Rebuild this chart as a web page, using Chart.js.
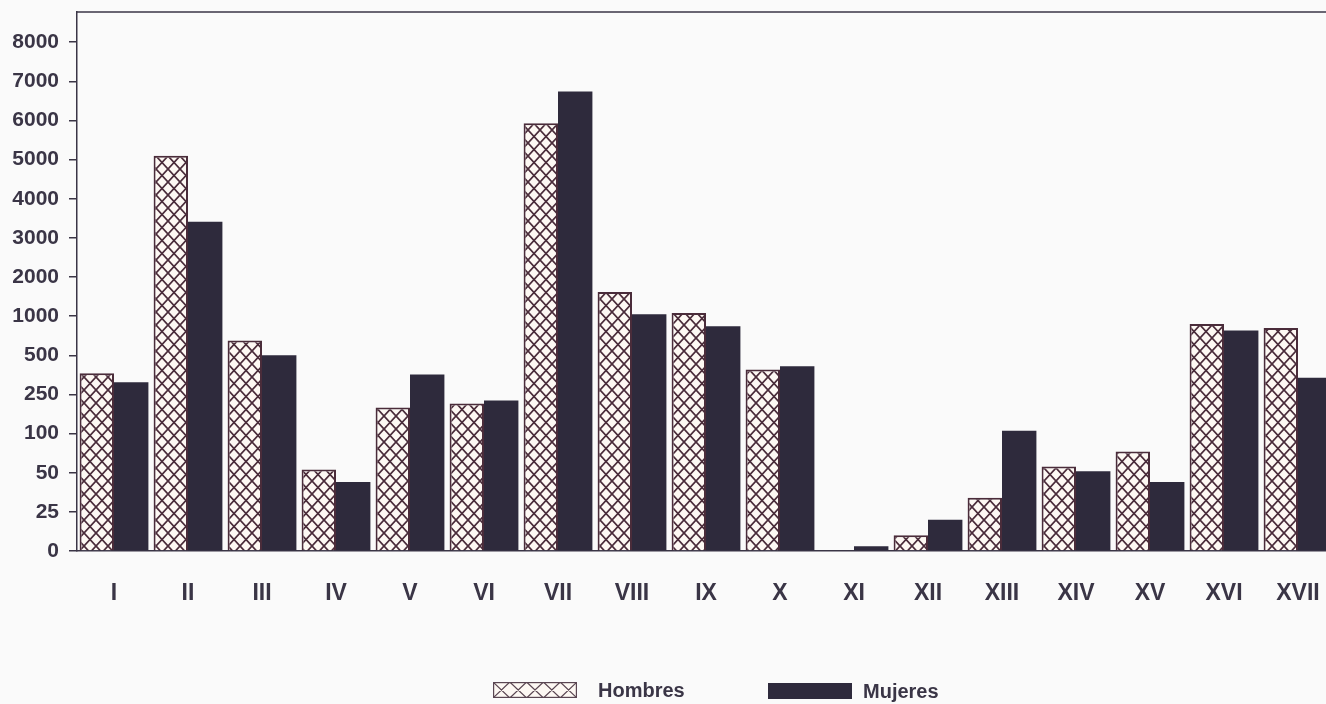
<!DOCTYPE html>
<html>
<head>
<meta charset="utf-8">
<script src="https://cdn.jsdelivr.net/npm/chart.js@4"></script>
<style>
  html, body { margin: 0; padding: 0; background: #fafafa; overflow: hidden; }
  #wrap { position: relative; width: 1340px; height: 704px; }
  #legend div { position: absolute; font: bold 20px "Liberation Sans", Arial, sans-serif; color: #3a3546; }
  #legend canvas { position: absolute; }
</style>
</head>
<body>
<div id="wrap">
  <canvas id="chart" width="1340" height="704"></canvas>
  <div id="legend">
    <canvas id="swH" width="84" height="16" style="left:493px;top:682px"></canvas>
    <div style="left:598px;top:679px">Hombres</div>
    <canvas id="swM" width="84" height="16" style="left:768px;top:683px"></canvas>
    <div style="left:863px;top:680px">Mujeres</div>
  </div>
</div>
<script>
// categories and values
const categories = ["I","II","III","IV","V","VI","VII","VIII","IX","X","XI","XII","XIII","XIV","XV","XVI","XVII"];
const hombres = [385, 5100, 690, 54, 200, 215, 5925, 1615, 1080, 410, 0, 10, 34, 58, 77, 900, 850];
const mujeres = [327, 3410, 500, 44, 378, 227, 6740, 1050, 870, 430, 3, 20, 111, 52, 44, 815, 356];
// tick labels of the (uneven) value axis, each one step apart
const yTicks = [0, 25, 50, 100, 250, 500, 1000, 2000, 3000, 4000, 5000, 6000, 7000, 8000];

function toStep(v) {
  if (v <= 0) return 0;
  for (let i = 0; i < yTicks.length - 1; i++) {
    if (v <= yTicks[i + 1]) return i + (v - yTicks[i]) / (yTicks[i + 1] - yTicks[i]);
  }
  return yTicks.length - 1 + (v - yTicks[yTicks.length - 1]) / 1000;
}
function fromStep(s) {
  const i = Math.max(0, Math.min(yTicks.length - 2, Math.floor(s)));
  return yTicks[i] + (s - i) * (yTicks[i + 1] - yTicks[i]);
}

// linear scale whose ticks sit at equal steps
class StepScale extends Chart.LinearScale {
  getPixelForValue(v) { return super.getPixelForValue(toStep(v)); }
  getValueForPixel(p) { return fromStep(super.getValueForPixel(p)); }
}
StepScale.id = "step";
StepScale.defaults = Chart.LinearScale.defaults;
Chart.register(StepScale);

const ink = "#3a3546";
const hatchLine = "#4a2c3a";

function hatch(w, h) {
  const c = document.createElement("canvas");
  c.width = w; c.height = h;
  const g = c.getContext("2d");
  g.fillStyle = "#fdf8f3";
  g.fillRect(0, 0, w, h);
  g.strokeStyle = hatchLine;
  g.lineWidth = 1.7;
  g.beginPath();
  g.moveTo(0, 0); g.lineTo(w, h);
  g.moveTo(w, 0); g.lineTo(0, h);
  g.stroke();
  return g.createPattern(c, "repeat");
}

const ctx = document.getElementById("chart").getContext("2d");
const hatchFill = hatch(12, 13);

const topLine = {
  id: "topLine",
  afterDraw(chart) {
    const { ctx, chartArea } = chart;
    ctx.save();
    ctx.strokeStyle = ink;
    ctx.lineWidth = 1.5;
    ctx.beginPath();
    ctx.moveTo(chartArea.left, chartArea.top);
    ctx.lineTo(chartArea.right + 10, chartArea.top);
    ctx.stroke();
    ctx.restore();
  }
};

new Chart(ctx, {
  type: "bar",
  data: {
    labels: categories,
    datasets: [
      { label: "Hombres", data: hombres, backgroundColor: hatchFill, borderColor: hatchLine, borderWidth: 2, borderSkipped: "bottom" },
      { label: "Mujeres", data: mujeres, backgroundColor: "#2e2a3c", borderColor: "#2e2a3c", borderWidth: 0 }
    ]
  },
  options: {
    responsive: false,
    animation: false,
    layout: { padding: { top: 12, right: 5 } },
    categoryPercentage: 0.93,
    barPercentage: 1.0,
    plugins: { legend: { display: false }, tooltip: { enabled: false } },
    scales: {
      x: {
        grid: { display: false, drawTicks: false },
        border: { color: ink, width: 1.5 },
        ticks: { color: ink, padding: 29, font: { family: "Liberation Sans", weight: "bold", size: 23 } },
        afterFit(s) { s.height = 153; s.paddingLeft = 0; s.paddingRight = 0; }
      },
      y: {
        type: "step",
        min: 0,
        max: 13.77,
        bounds: "data",
        grid: { drawOnChartArea: false, tickLength: 8, color: ink, lineWidth: 1.5 },
        border: { color: ink, width: 1.5 },
        ticks: {
          color: ink,
          padding: 10,
          font: { family: "Liberation Sans", weight: "bold", size: 21 },
          callback: (v) => String(v)
        },
        afterBuildTicks(s) { s.ticks = yTicks.map(v => ({ value: v })); },
        afterFit(s) { s.width = 77; s.paddingTop = 0; s.paddingBottom = 0; }
      }
    }
  },
  plugins: [topLine]
});

// legend swatches
const sh = document.getElementById("swH").getContext("2d");
sh.fillStyle = "#fdf8f3"; sh.fillRect(0, 0, 84, 16);
sh.strokeStyle = "#5a4652"; sh.lineWidth = 1.2;
sh.beginPath();
for (let i = 0; i < 5; i++) {
  const x0 = i * 16.8, x1 = x0 + 16.8;
  sh.moveTo(x0, 0); sh.lineTo(x1, 16);
  sh.moveTo(x1, 0); sh.lineTo(x0, 16);
}
sh.stroke();
sh.strokeRect(0.6, 0.6, 82.8, 14.8);
const sm = document.getElementById("swM").getContext("2d");
sm.fillStyle = "#2e2a3c"; sm.fillRect(0, 0, 84, 16);
</script>
</body>
</html>
